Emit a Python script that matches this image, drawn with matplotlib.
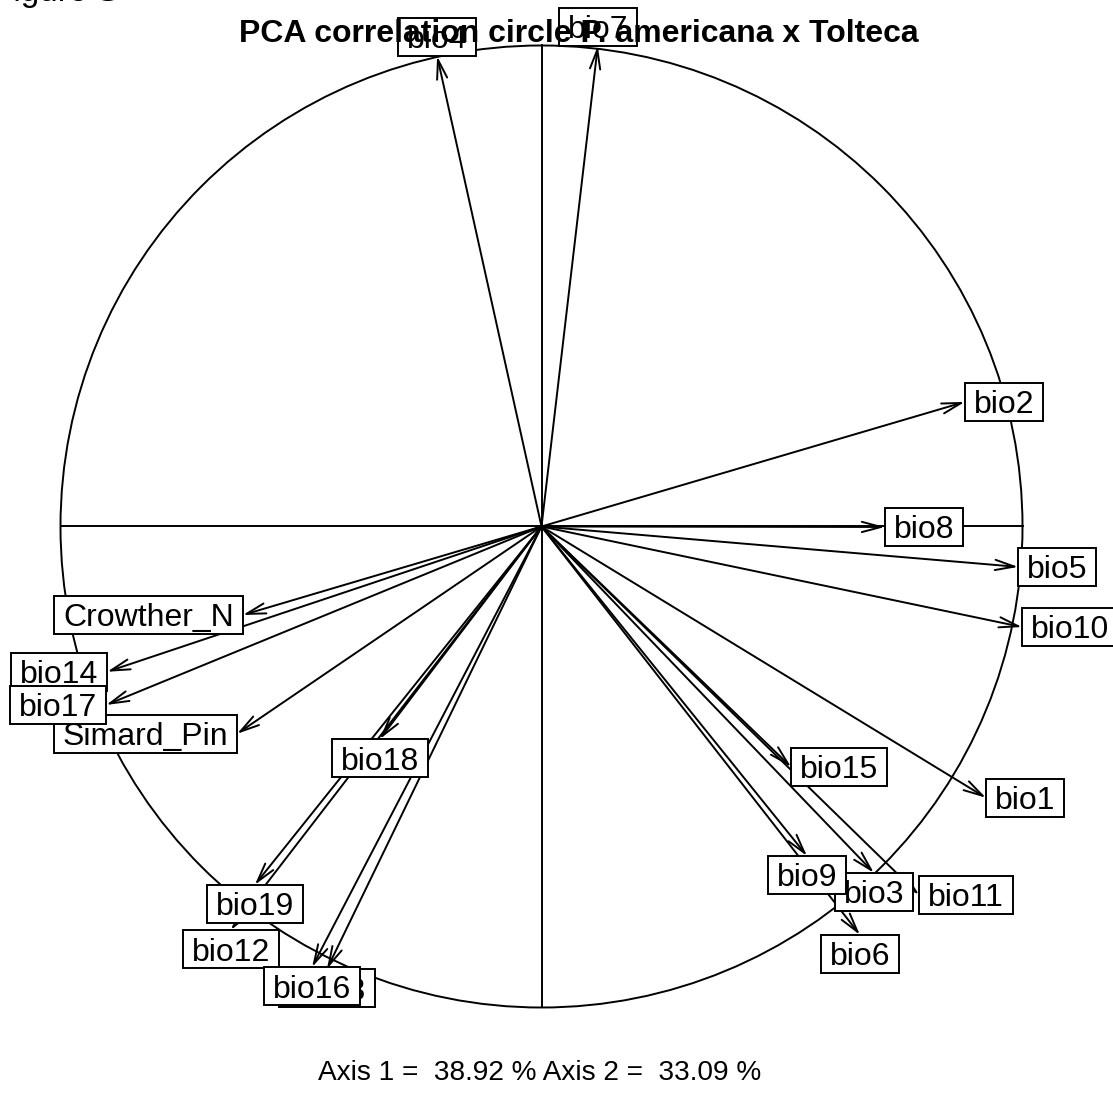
import numpy as np
import matplotlib.pyplot as plt
from matplotlib.patches import Circle, Rectangle, FancyArrowPatch

plt.rcParams['font.family'] = ['Liberation Sans', 'DejaVu Sans']

# variable coordinates on the correlation circle (axis 1, axis 2)
variables = ['Crowther_N', 'Simard_Pin',
             'bio1', 'bio2', 'bio3', 'bio4', 'bio5', 'bio6', 'bio7', 'bio8', 'bio9', 'bio10',
             'bio11', 'bio12', 'bio13', 'bio14', 'bio15', 'bio16', 'bio17', 'bio18', 'bio19']
axis1 = [-0.621, -0.633,
         0.924, 0.880, 0.691, -0.217, 0.991, 0.662, 0.117, 0.714, 0.552, 0.999,
         0.785, -0.646, -0.446, -0.903, 0.519, -0.477, -0.905, -0.336, -0.596]
axis2 = [-0.184, -0.431,
         -0.564, 0.259, -0.720, 0.978, -0.084, -0.849, 0.999, -0.001, -0.685, -0.209,
         -0.766, -0.839, -0.920, -0.302, -0.500, -0.916, -0.371, -0.442, -0.745]
inertia = [38.92, 33.09]
title = "PCA correlation circle P. americana x Tolteca"

W, H = 1113, 1098
fig = plt.figure(figsize=(W / 100, H / 100), dpi=100)
ax = fig.add_axes([0, 0, 1, 1])
cx, cy, r = 541.5, 526.5, 481.0
ax.set_xlim(-cx / r, (W - cx) / r)
ax.set_ylim(-(H - cy) / r, cy / r)
ax.axis('off')

lw = 1.4
ax.add_patch(Circle((0, 0), 1, fill=False, lw=lw, ec='black', zorder=1))
ax.plot([-1, 1], [0, 0], color='black', lw=lw, zorder=1)
ax.plot([0, 0], [-1, 1], color='black', lw=lw, zorder=1)

# arrows
for x, y in zip(axis1, axis2):
    ax.add_patch(FancyArrowPatch((0, 0), (x, y),
                                 arrowstyle='->,head_length=1.39,head_width=0.37',
                                 mutation_scale=10, shrinkA=0, shrinkB=0,
                                 lw=lw, color='black', zorder=2))

# boxed labels, placed like ade4 scatterutil.eti.circ
fs = 23
em = fs * 100 / 72
renderer = fig.canvas.get_renderer()
z = 3
for lab, x, y in zip(variables, axis1, axis2):
    t = ax.text(0, 0, lab, fontsize=fs)
    w_px = t.get_window_extent(renderer).width
    t.remove()
    xh = (w_px + 2 * 0.278 * em) / r
    yh = 5 / 6 * 0.716 * em / r
    if x > y and x > -y:
        x1, y1 = x + xh / 2, y
    elif x > y and x <= -y:
        x1, y1 = x, y - yh
    elif x <= y and x <= -y:
        x1, y1 = x - xh / 2, y
    else:
        x1, y1 = x, y + yh
    ax.add_patch(Rectangle((x1 - xh / 2, y1 - yh), xh, 2 * yh,
                           fc='white', ec='black', lw=lw, zorder=z))
    ax.text(x1, y1 - 0.358 * em / r, lab, ha='center', va='baseline',
            fontsize=fs, zorder=z + 0.5)
    z += 1

fig.text(579 / W, 1 - 42 / H, title, ha='center', va='baseline',
         fontsize=fs, fontweight='bold', zorder=20)
fig.text(540 / W, 1 - 1080 / H,
         "Axis 1 =  %.2f %% Axis 2 =  %.2f %%" % (inertia[0], inertia[1]),
         ha='center', va='baseline', fontsize=20.2)
fig.text(-7 / W, 1 - 1 / H, "Figure S", ha='left', va='baseline', fontsize=24)

plt.savefig('out.png', dpi=100)
